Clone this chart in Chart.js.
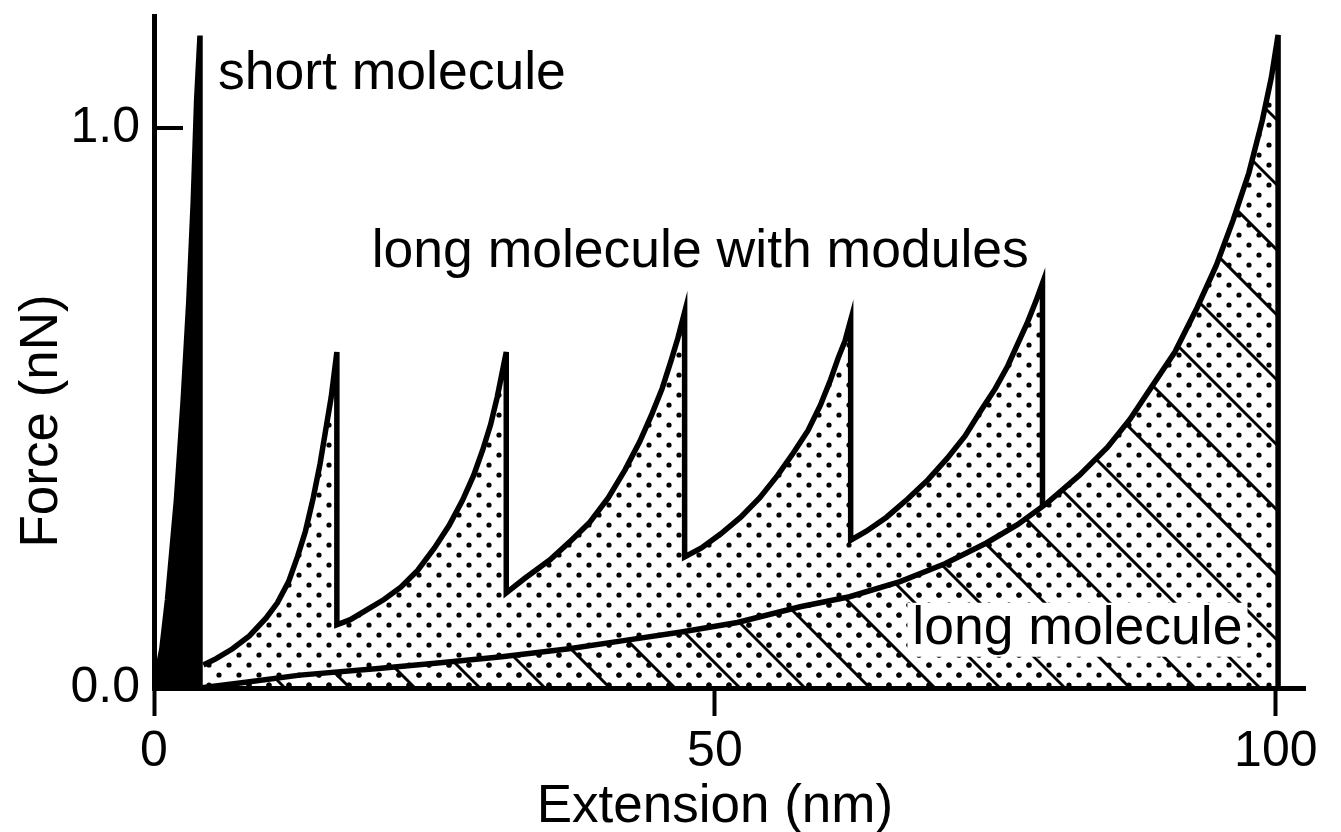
<!DOCTYPE html>
<html>
<head>
<meta charset="utf-8">
<title>Force vs extension</title>
<script src="https://cdn.jsdelivr.net/npm/chart.js@4.4.1/dist/chart.umd.min.js"></script>
<style>
  html, body { margin: 0; padding: 0; background: #fff; }
</style>
</head>
<body>
<canvas id="myChart" width="1341" height="832"></canvas>
<script>
// short molecule: steep rise, snaps at ~4 nm
var shortX = [0, 0.7, 1.2, 2.0, 2.6, 3.1, 3.5, 3.8, 4.1, 4.1]
var shortY = [0, 0.07, 0.157, 0.336, 0.514, 0.69, 0.87, 1.05, 1.165, 0]

// long molecule with modules: sawtooth, each module unfolds then force drops
var modX = [4.4, 5.5, 7, 8.5, 10, 11, 12, 12.8, 13.5, 14.2, 14.8, 15.3, 15.8, 16.3, 16.3,
            17.5, 19, 20.5, 22, 23.5, 25, 26.3, 27.5, 28.5, 29.3, 30, 30.6, 31.4, 31.4,
            33, 35.3, 37, 38.8, 40.5, 42, 43.3, 44.4, 45.3, 46.1, 46.7, 47.3, 47.3,
            48.8, 50.5, 52.3, 54, 55.6, 57, 58.3, 59.4, 60.3, 61, 61.6, 62.1, 62.1,
            63.5, 65.3, 67.2, 69, 70.7, 72.3, 73.7, 75, 76.1, 77, 77.8, 78.6, 79.2, 79.2]
var modY = [0.041, 0.052, 0.07, 0.093, 0.125, 0.152, 0.19, 0.235, 0.28, 0.34, 0.4, 0.46, 0.52, 0.6, 0.113,
            0.122, 0.14, 0.158, 0.18, 0.21, 0.25, 0.29, 0.335, 0.38, 0.425, 0.47, 0.52, 0.6, 0.17,
            0.195, 0.229, 0.26, 0.295, 0.34, 0.39, 0.44, 0.49, 0.535, 0.585, 0.625, 0.671, 0.234,
            0.25, 0.275, 0.305, 0.34, 0.38, 0.42, 0.46, 0.505, 0.55, 0.59, 0.62, 0.657, 0.264,
            0.28, 0.305, 0.338, 0.372, 0.41, 0.45, 0.495, 0.535, 0.575, 0.615, 0.65, 0.69, 0.723, 0.325]

// long molecule without modules
var longX = [4.1, 8, 13, 20, 26, 31, 37, 42, 47, 52, 57.6, 62, 66.5, 70.5, 74.2, 77, 79.6,
             82.5, 85, 87, 89, 91, 93, 94.7, 96.2, 97.6, 98.8, 99.6, 100.2, 100.2]
var longY = [0, 0.01, 0.023, 0.035, 0.046, 0.056, 0.07, 0.085, 0.1, 0.117, 0.145, 0.163, 0.19, 0.222, 0.259, 0.292, 0.33,
             0.38, 0.43, 0.48, 0.54, 0.6, 0.68, 0.755, 0.836, 0.92, 1.014, 1.09, 1.166, 0]

var xTicks = [0, 50, 100]
var yTicks = [0, 1.0]

const FONT = '"Liberation Sans", Arial, Helvetica, sans-serif'
Chart.defaults.font.family = FONT
Chart.defaults.color = '#000'

const toPoints = (xs, ys) => xs.map((v, i) => ({x: v, y: ys[i]}))

// staggered dot grid, optionally with "\" hatching on top
const makePattern = (withHatch) => {
  const size = 260
  const tile = document.createElement('canvas')
  tile.width = size
  tile.height = size
  const c = tile.getContext('2d')
  c.fillStyle = '#000'
  const dot = (x, y) => {
    for (const dx of [-size, 0, size]) {
      for (const dy of [-size, 0, size]) {
        c.beginPath()
        c.arc(x + dx, y + dy, 2.6, 0, Math.PI * 2)
        c.fill()
      }
    }
  }
  for (let x = 9; x < size; x += 20) {
    for (let y = 5; y < size; y += 20) {
      dot(x, y)
      dot(x + 10, y + 10)
    }
  }
  if (withHatch) {
    c.strokeStyle = '#000'
    c.lineWidth = 3
    for (let k = -6; k <= 6; k++) {
      const off = 52 + 65 * k
      c.beginPath()
      c.moveTo(off - 20, -20)
      c.lineTo(off + size + 20, size + 20)
      c.stroke()
    }
  }
  return c.createPattern(tile, 'repeat')
}

const dotFill = makePattern(false)
const hatchFill = makePattern(true)

const notes = [
  {text: 'short molecule', x: 5.7, y: 1.07},
  {text: 'long molecule with modules', x: 19.4, y: 0.752},
  {text: 'long molecule', x: 67.6, y: 0.079, box: true}
]

const figureText = {
  id: 'figureText',
  afterDraw(chart) {
    const {ctx, scales: {x, y}} = chart
    ctx.save()
    // inward tick marks on the force axis
    ctx.strokeStyle = '#000'
    ctx.lineWidth = 4
    yTicks.forEach(v => {
      const py = y.getPixelForValue(v)
      ctx.beginPath()
      ctx.moveTo(x.left, py)
      ctx.lineTo(x.left + 29, py)
      ctx.stroke()
    })
    ctx.font = '53.5px ' + FONT
    ctx.textBaseline = 'alphabetic'
    ctx.textAlign = 'left'
    notes.forEach(n => {
      const px = x.getPixelForValue(n.x)
      const py = y.getPixelForValue(n.y)
      if (n.box) {
        const w = ctx.measureText(n.text).width
        ctx.fillStyle = '#fff'
        ctx.fillRect(px - 5, py - 41, w + 10, 54)
      }
      ctx.fillStyle = '#000'
      ctx.fillText(n.text, px, py)
    })
    // axis titles
    ctx.font = '53px ' + FONT
    ctx.textAlign = 'center'
    ctx.fillText('Extension (nm)', x.getPixelForValue(50), chart.height - 10)
    ctx.translate(57, y.getPixelForValue(0.477))
    ctx.rotate(-Math.PI / 2)
    ctx.fillText('Force (nN)', 0, 0)
    ctx.restore()
  }
}

const lineStyle = {
  borderColor: '#000',
  borderWidth: 5.5,
  pointRadius: 0,
  tension: 0,
  fill: 'origin'
}

new Chart('myChart', {
  type: 'line',
  data: {
    datasets: [
      Object.assign({label: 'short molecule', data: toPoints(shortX, shortY), backgroundColor: '#000'}, lineStyle),
      Object.assign({label: 'long molecule with modules', data: toPoints(modX, modY), backgroundColor: dotFill}, lineStyle),
      Object.assign({label: 'long molecule', data: toPoints(longX, longY), backgroundColor: hatchFill}, lineStyle)
    ]
  },
  options: {
    responsive: false,
    animation: false,
    devicePixelRatio: 1,
    layout: {padding: {top: 16, right: 36, left: 0, bottom: 0}},
    plugins: {
      legend: {display: false},
      tooltip: {enabled: false},
      filler: {drawTime: 'beforeDatasetsDraw'}
    },
    scales: {
      x: {
        type: 'linear',
        min: 0,
        max: 102.6,
        afterBuildTicks: s => { s.ticks = xTicks.map(v => ({value: v})) },
        afterFit: s => { s.height = 144; s.paddingLeft = 0; s.paddingRight = 0 },
        ticks: {callback: v => String(v), font: {size: 50}, color: '#000', padding: 6, maxRotation: 0, autoSkip: false},
        grid: {drawOnChartArea: false, drawTicks: true, tickLength: 28, tickWidth: 4, tickColor: '#000'},
        border: {display: true, width: 5, color: '#000'}
      },
      y: {
        type: 'linear',
        min: 0,
        max: 1.2,
        afterBuildTicks: s => { s.ticks = yTicks.map(v => ({value: v})) },
        afterFit: s => { s.width = 154; s.paddingTop = 0; s.paddingBottom = 0 },
        ticks: {callback: v => v.toFixed(1), font: {size: 50}, color: '#000', padding: 14},
        grid: {display: false, drawTicks: false},
        border: {display: true, width: 5, color: '#000'}
      }
    }
  },
  plugins: [figureText]
})
</script>
</body>
</html>
